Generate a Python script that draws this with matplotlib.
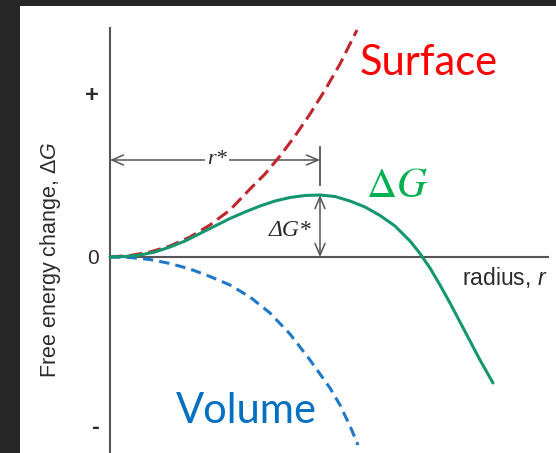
import matplotlib
matplotlib.use("Agg")
import matplotlib.pyplot as plt
from matplotlib.patches import Rectangle

plt.rcParams['mathtext.fontset'] = 'custom'
plt.rcParams['mathtext.rm'] = 'Liberation Sans'
plt.rcParams['mathtext.it'] = 'Liberation Sans:italic'

# ---- data (radius, free energy), arbitrary units ----
dg_r = [0, 15, 30, 45, 60, 75, 90, 105, 120, 135, 150, 165, 180, 195, 210, 225, 240,
        255, 270, 285, 300, 310, 320, 330, 340, 350, 360, 370, 383]
dg_g = [0, 0.5, 2, 5, 10, 16, 23.5, 31, 38.5, 45, 51, 56, 59.5, 61.5, 62, 60.5, 56,
        50, 41.5, 31, 16, 3.5, -11, -28, -46, -65, -84, -103, -126]

surf_r = [0, 20, 40, 60, 80, 100, 120, 140, 155, 170, 185, 200, 215, 230, 247]
surf_g = [0, 1.5, 5, 11, 20, 32, 47, 68, 83, 101, 121, 143, 167, 193, 227]

vol_r = [0, 20, 40, 60, 80, 100, 120, 140, 160, 180, 200, 210, 220, 230, 240, 248]
vol_g = [0, -0.5, -2.5, -6.5, -12, -19.5, -28, -40, -56, -77, -103, -117, -131, -148, -169, -188]

r_star = 210
dg_star = 62
y_ticks = [-168, 0, 164]
y_ticklabels = ['-', '0', '+']

fig = plt.figure(figsize=(5.56, 4.53), dpi=100)
fig.patch.set_facecolor('#262626')
fig.patches.append(Rectangle((20/556, 0), 536/556, 447/453, transform=fig.transFigure,
                             facecolor='white', edgecolor='none', zorder=-5))
ax = fig.add_axes([0, 0, 1, 1])
ax.set_zorder(2)
ax.set_facecolor('none')
ax.set_xlim(-110, 446)
ax.set_ylim(-196, 257)

for s in ['top', 'right']:
    ax.spines[s].set_visible(False)
ax.spines['left'].set_position(('data', 0))
ax.spines['bottom'].set_position(('data', 0))
ax.spines['left'].set_bounds(-196, 229)
ax.spines['bottom'].set_bounds(0, 438)
for s in ['left', 'bottom']:
    ax.spines[s].set_color('#555555')
    ax.spines[s].set_linewidth(1.5)

ax.set_xticks([])
ax.set_yticks(y_ticks, y_ticklabels)
ax.tick_params(axis='y', length=0, pad=8, labelsize=15, labelcolor='#2b2b2b')
for t in ax.get_yticklabels():
    t.set_family('Liberation Sans')
    if t.get_text() in ('+', '-'):
        t.set_fontweight('bold')
        t.set_fontsize(17)

ax.set_ylabel('Free energy change, $\\Delta G$', fontsize=15.5, family='Liberation Sans',
              color='#2b2b2b')
ax.yaxis.set_label_coords(63/556, (453-260)/453)

# curves
ax.plot(surf_r, surf_g, color='#c0272d', lw=2.2, linestyle=(0, (4.3, 2.0)), zorder=3)
ax.plot(vol_r, vol_g, color='#1f78c8', lw=2.2, linestyle=(0, (3.4, 2.0)), zorder=3)
ax.plot(dg_r, dg_g, color='#14966e', lw=2.2, zorder=4, solid_capstyle='round')

# r* arrow
arrow_kw = dict(arrowstyle='<->,head_length=0.7,head_width=0.3', color='#555555',
                lw=1.1, shrinkA=0, shrinkB=0, mutation_scale=12)
ax.annotate('', xy=(r_star, 97), xytext=(0, 97), arrowprops=arrow_kw, zorder=2)
ax.plot([r_star, r_star], [72, 110], color='#555555', lw=1.3, zorder=2)
ax.text(107, 97, 'r*', family='Liberation Serif', style='italic', fontsize=16,
        color='#2b2b2b', ha='center', va='center',
        bbox=dict(facecolor='white', edgecolor='none', pad=1.5), zorder=3)

# dG* arrow
ax.annotate('', xy=(r_star, dg_star), xytext=(r_star, 0), arrowprops=arrow_kw, zorder=2)
ax.text(180, 27, 'ΔG*', family='Liberation Serif', style='italic', fontsize=17,
        color='#2b2b2b', ha='center', va='center')

# labels
ax.text(395, -20, 'radius, $r$', fontsize=16.5, family='Liberation Sans', color='#2b2b2b',
        ha='center', va='center')
ax.text(319, 194, 'Surface', fontsize=30, family='Lato', color='#ff0000',
        ha='center', va='center')
ax.text(287, 72, '$\\Delta G$', fontsize=30, color='#00b050', ha='center', va='center',
        math_fontfamily='stix')
ax.text(136, -154, 'Volume', fontsize=30, family='Lato', color='#0070c0',
        ha='center', va='center')

fig.savefig('out.png', dpi=100, facecolor=fig.get_facecolor())
